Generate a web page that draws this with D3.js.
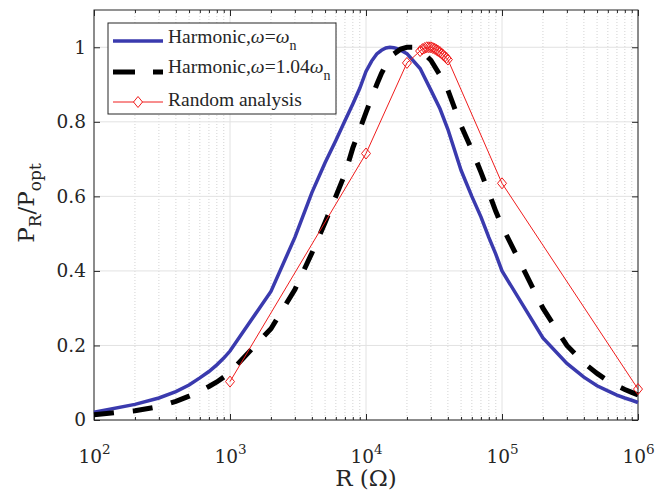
<!DOCTYPE html>
<html>
<head>
<meta charset="utf-8">
<script src="https://cdn.jsdelivr.net/npm/d3@7"></script>
<style>
  body { margin: 0; background: #fff; }
  text { font-family: "Liberation Serif", "DejaVu Serif", serif; fill: #262626; }
  .tick text, .axis-label { font-family: "DejaVu Serif", serif; }
</style>
</head>
<body>
<div id="container"></div>
<script>
/* DATA */
const harmonicR = [100, 200, 300, 400, 500, 600, 700, 800, 900, 1000,
  2000, 3000, 4000, 5000, 6000, 7000, 8000, 9000, 10000,
  11000, 12000, 13000, 14000, 15000, 16000, 17000, 18000, 20000,
  25000, 30000, 35000, 40000, 50000, 60000, 70000, 80000, 90000, 100000,
  200000, 300000, 400000, 500000, 600000, 700000, 800000, 900000, 1000000]
const harmonicP = [0.021, 0.042, 0.059, 0.076, 0.094, 0.113, 0.130, 0.148, 0.166, 0.185,
  0.345, 0.490, 0.610, 0.690, 0.750, 0.803, 0.848, 0.890, 0.935,
  0.963, 0.982, 0.992, 0.998, 1.000, 0.999, 0.996, 0.992, 0.983,
  0.943, 0.885, 0.835, 0.780, 0.670, 0.600, 0.545, 0.490, 0.445, 0.400,
  0.220, 0.152, 0.115, 0.092, 0.078, 0.067, 0.059, 0.053, 0.047]

const detunedR = [100, 200, 300, 400, 500, 600, 700, 800, 900, 1000,
  2000, 3000, 4000, 5000, 6000, 7000, 8000, 9000, 10000,
  11000, 12000, 13000, 14000, 15000, 16000, 18000, 20000, 22000, 25000,
  30000, 35000, 40000, 50000, 60000, 70000, 80000, 90000, 100000,
  200000, 300000, 400000, 500000, 600000, 700000, 800000, 900000, 1000000]
const detunedP = [0.014, 0.025, 0.036, 0.050, 0.064, 0.077, 0.090, 0.102, 0.115, 0.128,
  0.245, 0.350, 0.448, 0.530, 0.600, 0.660, 0.730, 0.780, 0.825,
  0.865, 0.900, 0.930, 0.953, 0.970, 0.982, 0.995, 1.000, 1.000, 0.993,
  0.965, 0.925, 0.885, 0.790, 0.725, 0.665, 0.610, 0.560, 0.520,
  0.300, 0.200, 0.153, 0.125, 0.105, 0.092, 0.082, 0.074, 0.067]

const randomR = [1000, 10000, 20000, 25000, 26000, 27000, 28000, 29000, 30000, 31000,
  32000, 33000, 34000, 35000, 36000, 37000, 38000, 39000, 40000, 100000, 1000000]
const randomP = [0.103, 0.715, 0.958, 0.990, 0.995, 0.998, 1.000, 1.000, 1.000, 0.998,
  0.996, 0.993, 0.990, 0.987, 0.983, 0.979, 0.975, 0.971, 0.967, 0.635, 0.083]

const xMajor = [1e2, 1e3, 1e4, 1e5, 1e6]
const xExponents = ["2", "3", "4", "5", "6"]
const yTicks = [0, 0.2, 0.4, 0.6, 0.8, 1]
const yTickLabels = ["0", "0.2", "0.4", "0.6", "0.8", "1"]

/* CONSTANTS */
const W = 670, H = 493
const margin = {top: 10, right: 32, bottom: 73, left: 94}
const width = W - margin.left - margin.right
const height = H - margin.top - margin.bottom

const axisColor = "#262626"
const blue = "#3a3aae"
const red = "#f01c1c"

// minor grid positions 2..9 per decade
const xMinor = []
xMajor.slice(0, -1).forEach(d => {
  for (let k = 2; k <= 9; k++) xMinor.push(d * k)
})

const svg = d3.select("#container")
  .append("svg")
    .attr("width", W)
    .attr("height", H)
  .append("g")
    .attr("transform", "translate(" + margin.left + "," + margin.top + ")")

/* SCALES */
const xScale = d3.scaleLog().domain([1e2, 1e6]).range([0, width])
const yScale = d3.scaleLinear().domain([0, 1.1]).range([height, 0])

/* GRID */
svg.append("g").selectAll("line")
  .data(xMinor).join("line")
    .attr("x1", d => xScale(d)).attr("x2", d => xScale(d))
    .attr("y1", 0).attr("y2", height)
    .attr("stroke", "#c8c8c8").attr("stroke-width", 0.8)
    .attr("stroke-dasharray", "1,2")

svg.append("g").selectAll("line")
  .data(xMajor).join("line")
    .attr("x1", d => xScale(d)).attr("x2", d => xScale(d))
    .attr("y1", 0).attr("y2", height)
    .attr("stroke", "#e2e2e2").attr("stroke-width", 1)

svg.append("g").selectAll("line")
  .data(yTicks).join("line")
    .attr("x1", 0).attr("x2", width)
    .attr("y1", d => yScale(d)).attr("y2", d => yScale(d))
    .attr("stroke", "#e2e2e2").attr("stroke-width", 1)

/* AXES */
function styleAxis(g) {
  g.select(".domain").remove()
  g.selectAll(".tick line").attr("stroke", axisColor)
  g.selectAll("text").style("font-size", "18.5px").attr("fill", axisColor)
    .style("font-family", "DejaVu Serif, serif")
}

const xAxis = svg.append("g")
  .attr("transform", "translate(0," + height + ")")
  .call(d3.axisBottom(xScale).tickValues(xMajor).tickSize(-6).tickFormat(""))
  .call(styleAxis)

xAxis.selectAll(".tick").append("text")
  .attr("y", 43)
  .attr("text-anchor", "middle")
  .attr("fill", axisColor)
  .style("font-size", "18.5px")
  .each(function(d, i) {
    const t = d3.select(this)
    t.append("tspan").text("10")
    t.append("tspan").attr("dy", -9).style("font-size", "13.5px").text(xExponents[i])
  })

svg.append("g")
  .attr("transform", "translate(0," + height + ")")
  .call(d3.axisBottom(xScale).tickValues(xMinor).tickSize(-3).tickFormat(""))
  .call(styleAxis)

svg.append("g")
  .call(d3.axisTop(xScale).tickValues(xMajor).tickSize(-6).tickFormat(""))
  .call(styleAxis)

svg.append("g")
  .call(d3.axisTop(xScale).tickValues(xMinor).tickSize(-3).tickFormat(""))
  .call(styleAxis)

svg.append("g")
  .call(d3.axisLeft(yScale).tickValues(yTicks).tickSize(-6).tickPadding(8)
    .tickFormat((d, i) => yTickLabels[i]))
  .call(styleAxis)

svg.append("g")
  .attr("transform", "translate(" + width + ",0)")
  .call(d3.axisRight(yScale).tickValues(yTicks).tickSize(-6).tickFormat(""))
  .call(styleAxis)

svg.append("rect")
  .attr("width", width).attr("height", height)
  .attr("fill", "none").attr("stroke", axisColor).attr("stroke-width", 1)

/* LINES */
const line = d3.line()
  .x(d => xScale(d[0]))
  .y(d => yScale(d[1]))

svg.append("path")
  .datum(d3.zip(harmonicR, harmonicP))
  .attr("fill", "none")
  .attr("stroke", blue)
  .attr("stroke-width", 3.5)
  .attr("d", line)

svg.append("path")
  .datum(d3.zip(detunedR, detunedP))
  .attr("fill", "none")
  .attr("stroke", "#000")
  .attr("stroke-width", 5)
  .attr("stroke-dasharray", "20,19")
  .attr("d", line)

svg.append("path")
  .datum(d3.zip(randomR, randomP))
  .attr("fill", "none")
  .attr("stroke", red)
  .attr("stroke-width", 1)
  .attr("d", line)

const diamond = "M0,-5.5L4.5,0L0,5.5L-4.5,0Z"
svg.append("g").selectAll("path")
  .data(d3.zip(randomR, randomP)).join("path")
    .attr("transform", d => "translate(" + xScale(d[0]) + "," + yScale(d[1]) + ")")
    .attr("d", diamond)
    .attr("fill", "none")
    .attr("stroke", red)
    .attr("stroke-width", 1)

/* LABELS */
svg.append("text")
  .attr("class", "axis-label")
  .attr("x", width / 2)
  .attr("y", height + 66)
  .attr("text-anchor", "middle")
  .style("font-size", "23px")
  .text("R (Ω)")

const yLabel = svg.append("text")
  .attr("class", "axis-label")
  .attr("transform", "translate(" + (34 - margin.left) + "," + (203 - margin.top) + ") rotate(-90)")
  .attr("text-anchor", "middle")
  .style("font-size", "23px")
yLabel.append("tspan").text("P")
yLabel.append("tspan").attr("dy", 7).style("font-size", "17px").text("R")
yLabel.append("tspan").attr("dy", -7).text("/P")
yLabel.append("tspan").attr("dy", 7).style("font-size", "17px").text("opt")

/* LEGEND */
const legend = svg.append("g")
  .attr("transform", "translate(" + (108 - margin.left) + "," + (23 - margin.top) + ")")

legend.append("rect")
  .attr("width", 228).attr("height", 91)
  .attr("fill", "#fff").attr("stroke", axisColor).attr("stroke-width", 1)

const rows = [
  {y: 18, base: 20, stroke: blue, sw: 3.5, dash: null, marker: false,
    parts: [["Harmonic,", 0, false], ["ω", 0, true], ["=", 0, false], ["ω", 0, true], ["n", 7, false]]},
  {y: 49, base: 50, stroke: "#000", sw: 5, dash: "22,18", marker: false,
    parts: [["Harmonic,", 0, false], ["ω", 0, true], ["=1.04", 0, false], ["ω", 0, true], ["n", 7, false]]},
  {y: 79, base: 83, stroke: red, sw: 1, dash: null, marker: true,
    parts: [["Random analysis", 0, false]]}
]

rows.forEach(r => {
  legend.append("line")
    .attr("x1", 5).attr("x2", 55)
    .attr("y1", r.y).attr("y2", r.y)
    .attr("stroke", r.stroke).attr("stroke-width", r.sw)
    .attr("stroke-dasharray", r.dash)
  if (r.marker) {
    legend.append("path")
      .attr("transform", "translate(30," + r.y + ")")
      .attr("d", diamond)
      .attr("fill", "#fff").attr("stroke", red)
  }
  const t = legend.append("text")
    .attr("x", 60).attr("y", r.base)
    .style("font-size", "19.5px")
  let prev = 0
  r.parts.forEach(p => {
    const s = t.append("tspan").attr("dy", p[1] - prev).text(p[0])
    if (p[2]) s.style("font-style", "italic")
    if (p[1] !== 0) s.style("font-size", "14px")
    prev = p[1]
  })
})
</script>
</body>
</html>
